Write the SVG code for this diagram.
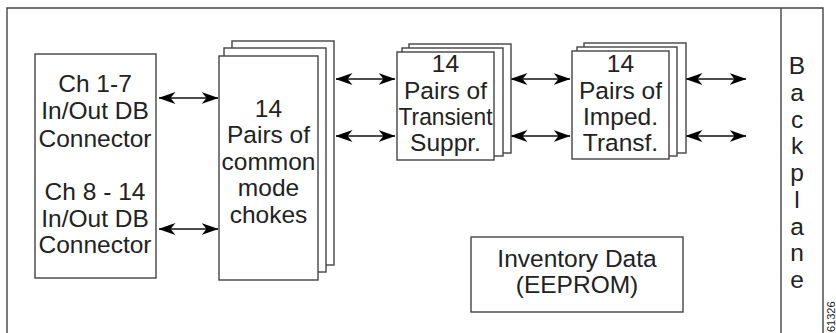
<svg xmlns="http://www.w3.org/2000/svg" width="836" height="333" viewBox="0 0 836 333">
<style>
.bx{fill:#fff;stroke:#444;stroke-width:1.4}
.t{font-family:"Liberation Sans",Arial,sans-serif;font-size:24.5px;fill:#222;text-anchor:middle}
.ln{stroke:#111;stroke-width:1.4;fill:none;marker-start:url(#ah);marker-end:url(#ah)}
.fr{fill:none;stroke:#444;stroke-width:1.4}
</style>
<defs>
<marker id="ah" viewBox="0 0 17 12" refX="16.5" refY="6" markerWidth="17" markerHeight="12" markerUnits="userSpaceOnUse" orient="auto-start-reverse">
<path d="M17,6 L0,0 L5,6 L0,12 Z" fill="#000"/>
</marker>
</defs>
<rect width="836" height="333" fill="#fff"/>
<g id="frame">
<path class="fr" d="M7,340 V8 H823 V340"/>
<path class="fr" d="M781,8 V340"/>
</g>
<g id="connectors">
<line class="ln" x1="159" y1="98" x2="218" y2="98"/>
<line class="ln" x1="159" y1="229" x2="218" y2="229"/>
<line class="ln" x1="336" y1="79" x2="395" y2="79"/>
<line class="ln" x1="336" y1="136" x2="395" y2="136"/>
<line class="ln" x1="511" y1="79" x2="570" y2="79"/>
<line class="ln" x1="511" y1="136" x2="570" y2="136"/>
<line class="ln" x1="686" y1="79" x2="746" y2="79"/>
<line class="ln" x1="686" y1="136" x2="746" y2="136"/>
</g>
<g id="connector-box">
<rect class="bx" x="35" y="54" width="121" height="224"/>
<text class="t" x="95" y="92">Ch 1-7</text>
<text class="t" x="95" y="119">In/Out DB</text>
<text class="t" x="95" y="147">Connector</text>
<text class="t" x="95" y="200">Ch 8 - 14</text>
<text class="t" x="95" y="227">In/Out DB</text>
<text class="t" x="95" y="253">Connector</text>
</g>
<g id="chokes">
<rect class="bx" x="232" y="41" width="102" height="224"/>
<rect class="bx" x="224" y="48" width="102" height="224"/>
<rect class="bx" x="219" y="56" width="99" height="224"/>
<text class="t" x="268.5" y="117">14</text>
<text class="t" x="268.5" y="143">Pairs of</text>
<text class="t" x="268.5" y="169.5">common</text>
<text class="t" x="268.5" y="196">mode</text>
<text class="t" x="268.5" y="222.5">chokes</text>
</g>
<g id="transient">
<rect class="bx" x="409" y="44" width="102" height="109"/>
<rect class="bx" x="402" y="48" width="101" height="108"/>
<rect class="bx" x="397" y="52" width="97" height="108"/>
<text class="t" x="445.5" y="72">14</text>
<text class="t" x="445.5" y="98.5">Pairs of</text>
<text class="t" x="445.5" y="124.5" textLength="94" lengthAdjust="spacingAndGlyphs">Transient</text>
<text class="t" x="445.5" y="150.5">Suppr.</text>
</g>
<g id="imped">
<rect class="bx" x="584" y="43" width="102" height="110"/>
<rect class="bx" x="577" y="47" width="100" height="109"/>
<rect class="bx" x="572" y="51" width="97" height="108"/>
<text class="t" x="620.5" y="72">14</text>
<text class="t" x="620.5" y="98.5">Pairs of</text>
<text class="t" x="620.5" y="124.5">Imped.</text>
<text class="t" x="620.5" y="150.5">Transf.</text>
</g>
<g id="inventory">
<rect class="bx" x="471" y="237" width="212" height="75"/>
<text class="t" x="577" y="267">Inventory Data</text>
<text class="t" x="577" y="292.5">(EEPROM)</text>
</g>
<g id="backplane">
<text class="t" x="797" y="74">B</text>
<text class="t" x="797" y="100.8">a</text>
<text class="t" x="797" y="127.5">c</text>
<text class="t" x="797" y="154.3">k</text>
<text class="t" x="797" y="181">p</text>
<text class="t" x="797" y="207.8">l</text>
<text class="t" x="797" y="234.5">a</text>
<text class="t" x="797" y="261.3">n</text>
<text class="t" x="797" y="288">e</text>
</g>
<text transform="translate(835,332) rotate(-90)" font-family="Liberation Sans,Arial,sans-serif" font-size="11" fill="#222">61326</text>
</svg>
